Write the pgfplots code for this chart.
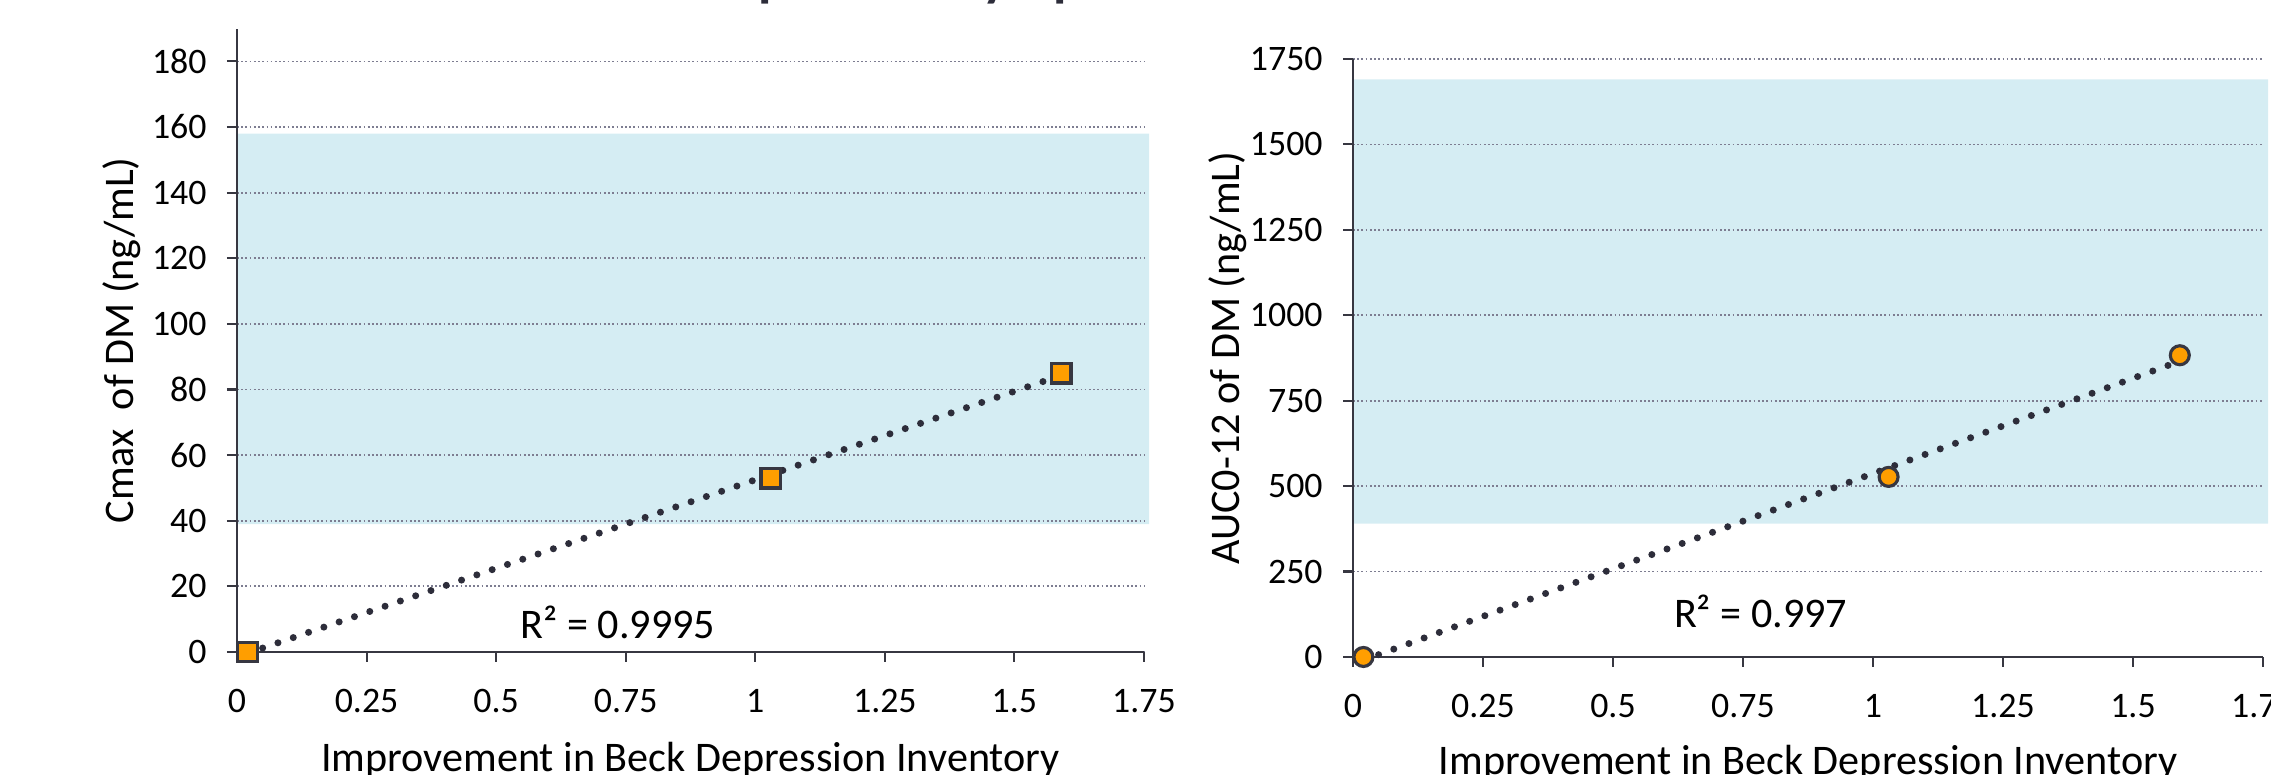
\documentclass[border=0pt]{standalone}
\usepackage{fontspec}
\setmainfont{Carlito}
\usepackage{pgfplots}
\pgfplotsset{compat=1.18}
\definecolor{orng}{RGB}{255,158,0}
\definecolor{axisgray}{RGB}{55,55,65}
\definecolor{shade}{RGB}{213,237,243}
\definecolor{gridgray}{RGB}{125,125,145}
\definecolor{trend}{RGB}{45,45,58}
\pgfplotsset{
  panel/.style={
    scale only axis, clip=false, set layers,
    axis lines*=left,
    axis line style={axisgray},
    x axis line style={line width=0.8pt},
    y axis line style={line width=0.6pt},
    tick align=outside,
    major tick length=0.1cm,
    tick style={axisgray, line width=0.6pt},
    xmin=0, xmax=1.75, ymin=0,
    xtick={0,0.25,0.5,0.75,1,1.25,1.5,1.75},
    ymajorgrids,
    major grid style={gridgray, line width=0.5pt, dash pattern=on 0.5pt off 0.7pt},
    tick label style={font=\fontsize{10.2}{12}\selectfont, /pgf/number format/assume math mode=true},
    /pgf/number format/set thousands separator={},
    xticklabel style={anchor=center, yshift=-0.39cm},
    yticklabel style={xshift=-0.08cm},
    label style={font=\fontsize{12}{14}\selectfont},
  },
  trendline/.style={trend, line width=2pt, line cap=round, dash pattern=on 0pt off 4.6pt},
}
\begin{document}
\begin{tikzpicture}
% title, mostly outside the visible area
\node[anchor=base west, font=\bfseries\fontsize{15.6}{18}\selectfont, text=trend, inner sep=0pt] at (6.96,7.797) {Depressive Symptoms};

% left panel: Cmax
\begin{axis}[panel,
  at={(2.37cm,1.23cm)}, anchor=south west,
  width=9.07cm, height=6.234cm,
  ymax=190, ytick={0,20,...,180},
  xlabel={Improvement in Beck Depression Inventory},
  xlabel style={at={([yshift=-1.20cm]axis description cs:0.5,0)}, anchor=base},
  ylabel={Cmax\ \ of DM (ng/mL)},
  ylabel style={at={([xshift=-1.15cm]axis description cs:0,0.5)}, anchor=center},
]
\addplot[fill=shade, draw=none, on layer=axis background, forget plot] coordinates {(0,39) (1.76,39) (1.76,158) (0,158) (0,39)};
\addplot[trendline] coordinates {(0.02,-0.39) (1.59,84.3)};
\addplot[only marks, mark=square*, mark size=2.8pt, mark options={fill=orng, draw=axisgray, line width=0.9pt}] coordinates {(0.02,0) (1.03,53) (1.59,85)};
\node[anchor=base, font=\fontsize{12}{14}\selectfont] at (axis cs:0.735,4) {R² = 0.9995};
\end{axis}

% right panel: AUC
\begin{axis}[panel,
  at={(13.53cm,1.18cm)}, anchor=south west,
  width=9.1cm, height=5.98cm,
  ymax=1750, ytick={0,250,...,1750},
  xlabel={Improvement in Beck Depression Inventory},
  xlabel style={at={([yshift=-1.18cm]axis description cs:0.5,0)}, anchor=base},
  ylabel={AUC0-12 of DM (ng/mL)},
  ylabel style={at={([xshift=-1.25cm]axis description cs:0,0.5)}, anchor=center},
]
\addplot[fill=shade, draw=none, on layer=axis background, forget plot] coordinates {(0,390) (1.76,390) (1.76,1690) (0,1690) (0,390)};
\addplot[trendline] coordinates {(0.02,-9.5) (1.59,865.8)};
\addplot[only marks, mark=*, mark size=2.7pt, mark options={fill=orng, draw=axisgray, line width=0.9pt}] coordinates {(0.02,0) (1.03,527) (1.59,883)};
\node[anchor=base, font=\fontsize{12}{14}\selectfont] at (axis cs:0.784,85) {R² = 0.997};
\end{axis}

\pgfresetboundingbox
\path[use as bounding box] (0,0) rectangle (22.71,7.75);
\end{tikzpicture}
\end{document}
